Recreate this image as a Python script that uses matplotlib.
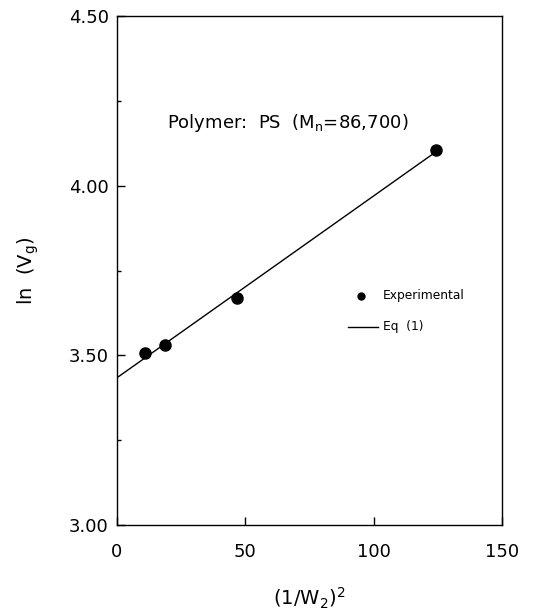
import matplotlib
matplotlib.use('Agg')
import matplotlib.pyplot as plt
import numpy as np
from matplotlib.ticker import MultipleLocator, FormatStrFormatter

plt.rcParams['font.family'] = ['DejaVu Sans']
plt.rcParams['mathtext.fontset'] = 'dejavusans'

# experimental points
inv_w2_sq = [10.9, 18.7, 46.6, 124.3]
ln_vg = [3.507, 3.530, 3.668, 4.105]

# Eq (1) line, end points
eq_x = [0.0, 124.3]
eq_y = [3.434, 4.100]

fig = plt.figure(figsize=(5.43, 6.13), dpi=100)
ax = fig.add_axes([117 / 543, 1 - 525 / 613, 385 / 543, 509 / 613])

ax.plot(eq_x, eq_y, color='black', linewidth=1.0, label='Eq  (1)')
ax.plot(inv_w2_sq, ln_vg, 'o', color='black', markersize=8, linestyle='none',
        label='Experimental')

ax.set_xlim(0, 150)
ax.set_ylim(3.0, 4.5)
ax.xaxis.set_major_locator(MultipleLocator(50))
ax.yaxis.set_major_locator(MultipleLocator(0.5))
ax.yaxis.set_minor_locator(MultipleLocator(0.25))
ax.yaxis.set_major_formatter(FormatStrFormatter('%.2f'))

ax.tick_params(which='major', direction='in', length=6, width=1.0, labelsize=13)
ax.tick_params(axis='x', pad=13)
ax.tick_params(axis='y', pad=6)
ax.tick_params(which='minor', direction='in', length=3, width=1.0)
ax.tick_params(axis='x', top=False)
ax.tick_params(axis='y', right=False)
for s in ax.spines.values():
    s.set_linewidth(1.0)

ax.text(0.13, 0.790, r'Polymer:  PS  (M$_\mathregular{n}$=86,700)',
        transform=ax.transAxes, fontsize=13, ha='left', va='center')

# legend drawn by hand
ax.plot([0.634], [0.450], 'o', color='black', markersize=5, transform=ax.transAxes)
ax.text(0.691, 0.450, 'Experimental', transform=ax.transAxes, fontsize=8.8,
        ha='left', va='center')
ax.plot([0.600, 0.678], [0.389, 0.389], color='black', linewidth=1.0,
        transform=ax.transAxes)
ax.text(0.691, 0.389, 'Eq  (1)', transform=ax.transAxes, fontsize=8.8,
        ha='left', va='center')

ax.set_xlabel(r'(1/W$_\mathregular{2}$)$^\mathregular{2}$', fontsize=14, labelpad=18)
ax.set_ylabel(r'ln  (V$_\mathregular{g}$)', fontsize=14, labelpad=20)

fig.savefig('out.png', dpi=100)
